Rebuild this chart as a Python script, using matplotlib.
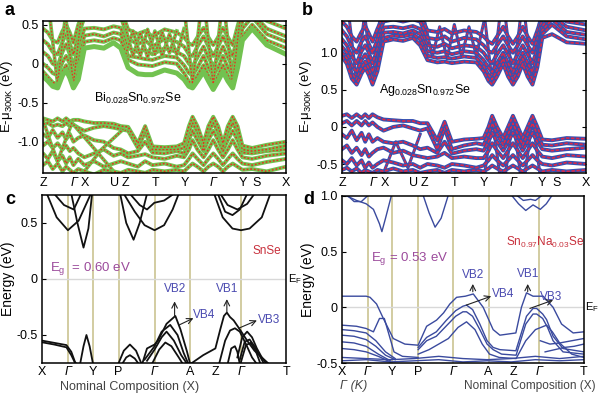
import matplotlib.pyplot as plt

plt.rcParams['font.family'] = ['Liberation Sans', 'DejaVu Sans']
plt.rcParams['mathtext.fontset'] = 'custom'
plt.rcParams['mathtext.rm'] = 'Liberation Sans'
plt.rcParams['mathtext.it'] = 'Liberation Sans:italic'
plt.rcParams['mathtext.default'] = 'regular'

# ---------------- panels a / b : unfolded supercell bands ----------------
ab_tick_pos = [0.0, 0.129, 0.174, 0.295, 0.338, 0.462, 0.582, 0.701, 0.82, 0.879, 1.0]
ab_tick_lab = ['Z', 'Γ', 'X', 'U', 'Z', 'T', 'Y', 'Γ', 'Y', 'S', 'X']

k_ab = [0, .02, .04, .06, .08, .095, .11, .125, .145, .17, .21, .25, .29, .32, .35, .39, .42, .45,
        .50, .55, .58, .60, .615, .635, .66, .68, .70, .72, .74, .76, .78, .80, .82, .86, .92, 1.0]

# Bi0.028Sn0.972Se
a_cb_low = [-0.16, -0.22, -0.29, -0.31, -0.15, -0.08, -0.18, -0.31, -0.20, 0.20, 0.22, 0.20, 0.27, 0.20,
            -0.05, -0.13, -0.14, -0.14, -0.08, -0.12, -0.20, -0.29, -0.31, -0.22, -0.10, -0.22, -0.33,
            -0.22, -0.10, -0.22, -0.31, -0.05, 0.30, 0.45, 0.24, 0.12]
a_cb2 = [-0.10, -0.17, -0.24, -0.26, -0.10, -0.02, -0.12, -0.26, -0.10, 0.28, 0.30, 0.28, 0.33, 0.30, 0.05,
         -0.01, -0.02, -0.03, 0.02, 0.0, -0.12, -0.23, -0.26, -0.15, -0.02, -0.15, -0.27, -0.15, -0.02,
         -0.15, -0.26, 0.0, 0.35, 0.50, 0.30, 0.20]
a_cb3 = [0.0, -0.05, -0.12, -0.15, 0.02, 0.10, 0.0, -0.15, 0.05, 0.36, 0.38, 0.35, 0.40, 0.38, 0.10, 0.08,
         0.06, 0.05, 0.10, 0.08, -0.02, -0.12, -0.15, -0.05, 0.10, -0.05, -0.15, -0.05, 0.10, -0.05, -0.15,
         0.10, 0.45, 0.60, 0.38, 0.28]
a_cb4 = [0.15, 0.10, 0.0, -0.03, 0.15, 0.25, 0.12, -0.02, 0.20, 0.45, 0.46, 0.44, 0.48, 0.46, 0.20, 0.15,
         0.18, 0.12, 0.20, 0.15, 0.10, 0.0, -0.03, 0.08, 0.22, 0.08, -0.03, 0.08, 0.22, 0.08, -0.03, 0.22,
         0.55, 0.65, 0.45, 0.35]
a_cb5 = [0.30, 0.25, 0.15, 0.12, 0.28, 0.38, 0.26, 0.12, 0.35, 0.60, 0.60, 0.60, 0.60, 0.60, 0.32, 0.25,
         0.30, 0.22, 0.32, 0.28, 0.22, 0.12, 0.10, 0.22, 0.35, 0.22, 0.10, 0.22, 0.35, 0.22, 0.10, 0.35,
         0.60, 0.70, 0.55, 0.45]
a_cb6 = [0.45, 0.40, 0.30, 0.27, 0.42, 0.50, 0.40, 0.27, 0.50, 0.70, 0.70, 0.70, 0.70, 0.70, 0.44, 0.38,
         0.42, 0.35, 0.44, 0.40, 0.34, 0.26, 0.24, 0.34, 0.46, 0.34, 0.24, 0.34, 0.46, 0.34, 0.24, 0.48,
         0.70, 0.80, 0.65, 0.56]
a_vb1 = [-0.70, -0.72, -0.74, -0.70, -0.74, -0.70, -0.74, -0.72, -0.72, -0.74, -0.76, -0.76, -0.77, -0.80,
         -0.81, -1.02, -0.80, -1.06, -1.07, -1.06, -1.02, -0.80, -0.68, -0.80, -1.02, -0.80, -0.68, -0.80,
         -1.02, -0.80, -0.68, -0.80, -1.05, -1.08, -1.04, -1.00]
a_vb2 = [-0.78, -0.76, -0.80, -0.78, -0.80, -0.76, -0.80, -0.78, -0.82, -0.86, -0.82, -0.80, -0.82, -0.84,
         -0.86, -1.08, -0.88, -1.10, -1.10, -1.10, -1.08, -0.88, -0.76, -0.88, -1.06, -0.88, -0.76, -0.88,
         -1.06, -0.88, -0.76, -0.88, -1.10, -1.12, -1.10, -1.05]
a_vb3 = [-0.90, -0.95, -0.85, -0.95, -0.88, -0.97, -0.90, -1.00, -0.95, -0.92, -0.98, -1.00, -1.08, -1.10,
         -1.15, -1.12, -1.00, -1.14, -1.15, -1.12, -1.15, -0.98, -0.86, -0.98, -1.12, -0.98, -0.86, -0.98,
         -1.12, -0.98, -0.86, -0.98, -1.14, -1.15, -1.12, -1.10]
a_vb4 = [-1.05, -1.00, -1.08, -1.02, -1.10, -1.05, -1.12, -1.08, -1.15, -1.20, -1.15, -1.10, -1.18, -1.15,
         -1.20, -1.18, -1.16, -1.20, -1.22, -1.18, -1.20, -1.10, -0.98, -1.10, -1.20, -1.10, -0.98, -1.10,
         -1.20, -1.10, -0.98, -1.10, -1.20, -1.22, -1.18, -1.15]
a_vb5 = [-1.15, -1.22, -1.12, -1.25, -1.18, -1.28, -1.20, -1.30, -1.22, -1.30, -1.25, -1.32, -1.28, -1.25,
         -1.28, -1.32, -1.25, -1.30, -1.28, -1.32, -1.30, -1.22, -1.15, -1.22, -1.30, -1.22, -1.15, -1.22,
         -1.30, -1.22, -1.15, -1.22, -1.28, -1.30, -1.26, -1.22]
a_vb6 = [-1.30, -1.25, -1.35, -1.28, -1.38, -1.32, -1.36, -1.40, -1.35, -1.38, -1.42, -1.36, -1.38, -1.40,
         -1.36, -1.38, -1.40, -1.36, -1.38, -1.36, -1.38, -1.32, -1.28, -1.32, -1.38, -1.32, -1.28, -1.32,
         -1.38, -1.32, -1.28, -1.32, -1.36, -1.35, -1.38, -1.32]
# crossing branches (k, E)
a_cross = [
    ([.125, .20, .285], [-0.78, -1.05, -1.36]),
    ([.17, .24, .33], [-1.38, -1.10, -0.84]),
    ([.03, .06, .09], [0.55, -0.26, 0.55]),
    ([.095, .125, .155], [0.55, -0.26, 0.55]),
    ([.585, .615, .645], [0.58, -0.26, 0.58]),
    ([.67, .70, .73], [0.58, -0.28, 0.58]),
    ([.75, .78, .81], [0.58, -0.26, 0.58]),
    ([.34, .37, .40, .43, .46, .49, .52, .55, .58], [0.45, 0.10, 0.40, 0.08, 0.42, 0.10, 0.38, 0.12, 0.45]),
    ([.34, .37, .40, .43, .46, .49, .52, .55], [0.12, 0.42, 0.10, 0.44, 0.12, 0.40, 0.14, 0.42]),
    ([.0, .03, .06, .09, .12], [-0.72, -1.0, -1.25, -1.0, -0.75]),
]

# Ag0.028Sn0.972Se
b_cb_low = [0.95, 0.85, 0.65, 0.57, 0.72, 0.80, 0.70, 0.57, 0.75, 1.15, 1.18, 1.16, 1.20, 1.10, 0.90, 0.87,
            0.88, 0.86, 0.88, 0.87, 0.75, 0.62, 0.57, 0.68, 0.85, 0.68, 0.57, 0.68, 0.85, 0.68, 0.57, 0.80,
            1.20, 1.25, 1.14, 1.12]
b_cb2 = [1.00, 0.92, 0.72, 0.64, 0.80, 0.88, 0.78, 0.64, 0.82, 1.20, 1.23, 1.22, 1.25, 1.18, 0.96, 0.93,
         0.94, 0.92, 0.95, 0.93, 0.82, 0.70, 0.64, 0.76, 0.92, 0.76, 0.64, 0.76, 0.92, 0.76, 0.64, 0.86,
         1.25, 1.38, 1.22, 1.18]
b_cb3 = [1.08, 1.00, 0.82, 0.74, 0.90, 0.98, 0.88, 0.74, 0.92, 1.27, 1.28, 1.26, 1.30, 1.25, 1.02, 1.00,
         1.02, 0.98, 1.02, 1.00, 0.90, 0.80, 0.74, 0.86, 1.00, 0.86, 0.74, 0.86, 1.00, 0.86, 0.74, 0.95,
         1.30, 1.45, 1.28, 1.24]
b_cb4 = [1.18, 1.10, 0.95, 0.86, 1.02, 1.10, 1.00, 0.86, 1.05, 1.34, 1.35, 1.33, 1.36, 1.32, 1.10, 1.08,
         1.12, 1.06, 1.10, 1.08, 1.00, 0.90, 0.86, 0.98, 1.10, 0.98, 0.86, 0.98, 1.10, 0.98, 0.86, 1.05,
         1.36, 1.50, 1.35, 1.30]
b_cb5 = [1.30, 1.22, 1.08, 1.00, 1.15, 1.22, 1.12, 1.00, 1.18, 1.42, 1.45, 1.42, 1.45, 1.42, 1.20, 1.18,
         1.22, 1.15, 1.20, 1.18, 1.10, 1.02, 1.00, 1.10, 1.22, 1.10, 1.00, 1.10, 1.22, 1.10, 1.00, 1.18,
         1.45, 1.55, 1.42, 1.38]
b_cb6 = [1.42, 1.35, 1.22, 1.15, 1.28, 1.36, 1.26, 1.15, 1.32, 1.50, 1.50, 1.50, 1.50, 1.50, 1.30, 1.28,
         1.32, 1.26, 1.30, 1.28, 1.22, 1.15, 1.12, 1.22, 1.35, 1.22, 1.12, 1.22, 1.35, 1.22, 1.12, 1.30,
         1.50, 1.60, 1.50, 1.46]
b_vb1 = [0.15, 0.17, 0.12, 0.17, 0.12, 0.17, 0.12, 0.17, 0.13, 0.10, 0.09, 0.08, 0.08, 0.05, 0.05, -0.18,
         0.07, -0.20, -0.17, -0.16, -0.15, 0.0, 0.15, 0.0, -0.15, 0.0, 0.15, 0.0, -0.15, 0.0, 0.15, 0.0,
         -0.17, -0.18, -0.15, -0.16]
b_vb2 = [0.05, 0.08, 0.02, 0.08, 0.02, 0.08, 0.02, 0.06, 0.0, -0.05, 0.0, 0.02, -0.02, -0.05, -0.02, -0.30,
         -0.02, -0.30, -0.25, -0.22, -0.24, -0.10, 0.05, -0.10, -0.24, -0.10, 0.05, -0.10, -0.24, -0.10,
         0.05, -0.10, -0.24, -0.25, -0.22, -0.24]
b_vb3 = [-0.10, -0.15, -0.05, -0.18, -0.08, -0.20, -0.10, -0.20, -0.15, -0.20, -0.22, -0.20, -0.25, -0.30,
         -0.28, -0.35, -0.20, -0.36, -0.32, -0.30, -0.32, -0.20, -0.08, -0.20, -0.32, -0.20, -0.08, -0.20,
         -0.32, -0.20, -0.08, -0.20, -0.30, -0.32, -0.30, -0.28]
b_vb4 = [-0.30, -0.25, -0.35, -0.28, -0.38, -0.30, -0.40, -0.35, -0.30, -0.28, -0.35, -0.32, -0.38, -0.40,
         -0.42, -0.40, -0.35, -0.42, -0.40, -0.42, -0.42, -0.32, -0.22, -0.32, -0.42, -0.32, -0.22, -0.32,
         -0.42, -0.32, -0.22, -0.32, -0.40, -0.42, -0.38, -0.40]
b_vb5 = [-0.45, -0.50, -0.42, -0.52, -0.45, -0.55, -0.48, -0.55, -0.50, -0.45, -0.48, -0.52, -0.50, -0.55,
         -0.50, -0.52, -0.55, -0.50, -0.52, -0.55, -0.52, -0.45, -0.38, -0.45, -0.52, -0.45, -0.38, -0.45,
         -0.52, -0.45, -0.38, -0.45, -0.50, -0.52, -0.48, -0.50]
b_vb6 = [-0.58, -0.55, -0.60, -0.56, -0.62, -0.58, -0.60, -0.62, -0.58, -0.60, -0.56, -0.60, -0.58, -0.62,
         -0.60, -0.58, -0.62, -0.58, -0.60, -0.58, -0.60, -0.56, -0.52, -0.56, -0.60, -0.56, -0.52, -0.56,
         -0.60, -0.56, -0.52, -0.56, -0.60, -0.58, -0.60, -0.58]
b_cross = [
    ([.03, .06, .09], [1.45, 0.60, 1.45]),
    ([.095, .125, .155], [1.45, 0.60, 1.45]),
    ([.585, .615, .645], [1.45, 0.60, 1.45]),
    ([.67, .70, .73], [1.45, 0.60, 1.45]),
    ([.75, .78, .81], [1.45, 0.60, 1.45]),
    ([.34, .37, .40, .43, .46, .49, .52, .55, .58], [1.40, 0.95, 1.35, 0.92, 1.38, 0.95, 1.35, 0.96, 1.40]),
    ([.585, .615, .645], [-0.62, 0.12, -0.62]),
    ([.67, .70, .73], [-0.62, 0.12, -0.62]),
    ([.75, .78, .81], [-0.62, 0.12, -0.62]),
    ([.17, .22, .27, .32], [-0.62, -0.20, -0.55, -0.10]),
]

# ---------------- panels c / d : primitive cell bands ----------------
cd_tick_pos = [0.0, 0.106, 0.208, 0.314, 0.461, 0.606, 0.71, 0.815, 1.0]
cd_tick_lab = ['X', 'Γ', 'Y', 'P', 'Γ', 'A', 'Z', 'Γ', 'T']
cd_vlines = [0.106, 0.208, 0.314, 0.461, 0.606, 0.815]

# SnSe
c_bands = [
    ([.02, .06, .106, .15, .20], [.76, .55, .435, .52, .76]),
    ([.12, .145, .17, .19, .205], [.76, .50, .28, .45, .76]),
    ([.05, .09, .13, .16], [.76, .66, .62, .76]),
    ([.32, .345, .375, .40, .43], [.76, .50, .35, .50, .76]),
    ([.335, .38, .42, .461, .50, .535, .56], [.76, .60, .48, .435, .48, .62, .76]),
    ([.36, .40, .43, .46, .50, .54], [.76, .66, .62, .68, .70, .76]),
    ([.705, .74, .78, .815, .85, .90, .935], [.76, .55, .45, .435, .45, .55, .76]),
    ([.72, .75, .78, .81, .84], [.76, .60, .57, .62, .76]),
    ([.73, .76, .80, .84, .87], [.76, .66, .62, .67, .76]),
    ([0, .05, .10, .12, .135, .145], [-.55, -.57, -.59, -.65, -.74, -.77]),
    ([0, .05, .10, .12, .14], [-.565, -.585, -.61, -.68, -.77]),
    ([.155, .17, .182, .195, .21], [-.77, -.60, -.50, -.60, -.77]),
    ([.31, .335, .36, .385, .41], [-.77, -.64, -.585, -.64, -.77]),
    ([.325, .345, .36, .38, .40], [-.77, -.70, -.68, -.71, -.77]),
    ([.41, .43, .461, .475, .51, .546, .567, .594, .607], [-.76, -.62, -.585, -.55, -.40, -.33, -.45, -.65, -.76]),
    ([.42, .461, .49, .525, .555, .58, .60], [-.72, -.60, -.47, -.41, -.50, -.66, -.76]),
    ([.43, .461, .49, .51, .54, .57, .595], [-.73, -.63, -.52, -.47, -.55, -.68, -.76]),
    ([.45, .48, .505, .53, .56, .58], [-.76, -.63, -.567, -.60, -.70, -.77]),
    ([.607, .66, .71, .73, .745, .757, .77, .785, .81, .84, .87, .90, .93],
     [-.76, -.68, -.62, -.45, -.33, -.30, -.34, -.37, -.45, -.55, -.64, -.70, -.76]),
    ([.725, .75, .77, .79, .81, .835, .86, .88], [-.76, -.55, -.46, -.44, -.47, -.58, -.70, -.76]),
    ([.76, .775, .79, .80, .81], [-.76, -.62, -.60, -.65, -.76]),
    ([.80, .82, .84, .86, .88, .90, .92], [-.70, -.52, -.47, -.52, -.62, -.70, -.76]),
    ([.81, .83, .85, .87, .89, .91], [-.72, -.56, -.54, -.60, -.68, -.76]),
    ([.815, .835, .855, .875, .895], [-.74, -.59, -.57, -.64, -.76]),
]

# Sn0.97Na0.03Se
d_bands = [
    ([.01, .06, .10, .13, .155, .165, .18, .205], [1.01, .96, .93, .88, .75, .68, .80, 1.01]),
    ([.02, .05, .08, .11], [1.01, .95, .95, 1.01]),
    ([.335, .36, .385, .41, .44], [1.01, .85, .72, .80, 1.01]),
    ([.70, .73, .76, .79, .82, .845, .87], [1.01, .93, .87, .92, .88, .93, 1.01]),
    ([.72, .75, .78, .80, .83], [1.01, .96, .97, .96, 1.01]),
    ([0, .10, .116, .143, .171, .212, .26, .315, .35, .391, .42, .446, .474, .51, .543, .584, .625, .653,
      .719, .742, .763, .79, .832, .873, .908, .956, 1.0],
     [.10, .10, .09, .03, -.10, -.28, -.33, -.34, -.17, -.115, -.05, .03, .09, .10, .12, 0.0, -.20, -.25,
      -.23, 0.0, .13, .10, .10, 0.0, -.15, -.23, -.22]),
    ([.315, .35, .39, .43, .47, .50, .515, .54, .57, .60, .625, .653, .719, .763, .79, .805, .83, .846,
      .873, .914, 1.0],
     [-.36, -.27, -.22, -.12, -.03, .01, .02, -.02, -.15, -.30, -.36, -.38, -.39, -.08, -.01, -.01, -.06,
      -.11, -.26, -.37, -.40]),
    ([.315, .35, .39, .43, .47, .50, .515, .54, .57, .60, .625, .66, .72, .76, .79, .805, .83, .85, .873,
      .914, 1.0],
     [-.38, -.30, -.26, -.17, -.08, -.04, -.04, -.08, -.20, -.33, -.38, -.42, -.43, -.15, -.06, -.06, -.10,
      -.18, -.30, -.40, -.42]),
    ([.315, .36, .40, .44, .48, .515, .55, .58, .61, .65, .72, .76, .80, .846, .87, .90, .95, 1.0],
     [-.42, -.38, -.33, -.28, -.18, -.13, -.20, -.33, -.42, -.45, -.46, -.30, -.20, -.16, -.22, -.32, -.42,
      -.45]),
    ([0, .06, .10, .13, .155, .175, .195, .215, .25, .315], [-.16, -.17, -.19, -.22, -.10, -.10, -.25, -.40,
                                                            -.44, -.45]),
    ([0, .05, .10, .14, .18, .22], [-.20, -.21, -.23, -.30, -.40, -.46]),
    ([0, .05, .10, .14, .18, .22], [-.25, -.26, -.29, -.35, -.43, -.47]),
    ([0, .05, .10, .15, .20], [-.31, -.32, -.35, -.42, -.48]),
    ([0, .05, .10, .15, .20], [-.37, -.38, -.40, -.44, -.49]),
    ([0, .1, .2, .3, .4, .5, .6, .7, .8, .9, 1.0], [-.45, -.46, -.47, -.46, -.44, -.46, -.47, -.46, -.44,
                                                  -.46, -.44]),
    ([0, .1, .2, .3, .4, .5, .6, .7, .8, .9, 1.0], [-.48, -.47, -.49, -.48, -.47, -.49, -.48, -.49, -.47,
                                                  -.48, -.47]),
    ([.82, .86, .90, .95, 1.0], [-.30, -.33, -.32, -.30, -.28]),
    ([.84, .88, .92, .96, 1.0], [-.40, -.38, -.36, -.35, -.33]),
]

GREEN = '#72c250'
RED_A = '#e3341f'
BLUE = '#3650b0'
RED_B = '#dc2848'
OLIVE = '#cbc491'
BAND_C = '#111111'
BAND_D = '#3a4a9e'
VB_BLUE = '#4a4ab0'
PURPLE = '#9b4a9b'

fig = plt.figure(figsize=(6, 3.93), dpi=100)
ax_a = fig.add_axes([0.0717, 0.560, 0.4053, 0.387])
ax_b = fig.add_axes([0.570, 0.560, 0.407, 0.387])
ax_c = fig.add_axes([0.070, 0.0763, 0.407, 0.4277])
ax_d = fig.add_axes([0.570, 0.0763, 0.403, 0.4250])


def style_top(ax, ylim, yticks, ylabels):
    ax.set_xlim(0, 1)
    ax.set_ylim(*ylim)
    ax.set_yticks(yticks)
    ax.set_yticklabels(ylabels)
    ax.set_xticks(ab_tick_pos)
    ax.set_xticklabels(ab_tick_lab)
    for lbl in ax.get_xticklabels():
        if lbl.get_text() == 'Γ':
            lbl.set_style('italic')
    ax.tick_params(axis='y', direction='in', left=True, right=True, length=3, labelsize=9, pad=3)
    ax.tick_params(axis='x', length=0, labelsize=9, pad=3)
    for s in ax.spines.values():
        s.set_linewidth(1.1)


# --- a ---
for e in [a_cb6, a_cb5, a_cb4, a_cb3, a_cb2, a_vb6, a_vb5, a_vb4, a_vb3, a_vb2, a_vb1]:
    ax_a.plot(k_ab, e, color=GREEN, lw=2.8, solid_capstyle='round')
    ax_a.plot(k_ab, e, color=RED_A, lw=1.1, ls=(0, (1.2, 1.2)))
for kk, e in a_cross:
    ax_a.plot(kk, e, color=GREEN, lw=2.6)
    ax_a.plot(kk, e, color=RED_A, lw=1.0, ls=(0, (1.2, 1.2)))
ax_a.plot(k_ab, a_cb_low, color=GREEN, lw=3.6)
style_top(ax_a, (-1.40, 0.55), [0.5, 0, -0.5, -1.0], ['0.5', '0', '-0.5', '-1.0'])
ax_a.set_ylabel('E-μ$_{300K}$ (eV)', fontsize=9.5, labelpad=2)
ax_a.text(0.39, -0.44, 'Bi$_{0.028}$Sn$_{0.972}$Se', fontsize=9, ha='center', va='center')

# --- b ---
for kk, e in b_cross:
    ax_b.plot(kk, e, color=BLUE, lw=2.2)
    ax_b.plot(kk, e, color=RED_B, lw=1.0, ls=(0, (2, 1)))
for e in [b_cb6, b_cb5, b_cb4, b_cb3, b_cb2, b_cb_low, b_vb6, b_vb5, b_vb4, b_vb3, b_vb2, b_vb1]:
    ax_b.plot(k_ab, e, color=BLUE, lw=2.8)
    ax_b.plot(k_ab, e, color=RED_B, lw=1.2, ls=(0, (2, 1)))
style_top(ax_b, (-0.62, 1.43), [1.0, 0.5, 0, -0.5], ['1.0', '0.5', '0', '-0.5'])
ax_b.set_ylabel('E-μ$_{300K}$ (eV)', fontsize=9.5, labelpad=2)
ax_b.text(0.34, 0.50, 'Ag$_{0.028}$Sn$_{0.972}$Se', fontsize=9, ha='center', va='center')


def style_bottom(ax, ylim, yticks, ylabels):
    ax.set_xlim(0, 1)
    ax.set_ylim(*ylim)
    for xv in cd_vlines:
        ax.axvline(xv, color=OLIVE, lw=1.2, zorder=0)
    ax.axhline(0, color='#d8d8d8', lw=1.0, zorder=0)
    ax.set_yticks(yticks)
    ax.set_yticklabels(ylabels)
    ax.set_xticks(cd_tick_pos)
    ax.set_xticklabels(cd_tick_lab)
    for lbl in ax.get_xticklabels():
        if lbl.get_text() == 'Γ':
            lbl.set_style('italic')
    ax.tick_params(axis='y', direction='in', left=True, right=False, length=3, labelsize=9, pad=3)
    ax.tick_params(axis='x', length=0, labelsize=9, pad=2)
    ax.set_ylabel('Energy (eV)', fontsize=10, labelpad=1)
    ax.text(1.006, 0, 'E$_F$', transform=ax.get_yaxis_transform(), fontsize=8, va='center', ha='left')
    for s in ax.spines.values():
        s.set_linewidth(1.1)


# --- c ---
style_bottom(ax_c, (-0.75, 0.75), [0.5, 0, -0.5], ['0.5', '0', '-0.5'])
for kk, e in c_bands:
    ax_c.plot(kk, e, color=BAND_C, lw=1.3)
ax_c.text(0.92, 0.25, 'SnSe', color='#c8303c', fontsize=8.5, ha='center', va='center')
ax_c.text(0.20, 0.09, 'E$_g$  = 0.60 eV', color=PURPLE, fontsize=9.5, ha='center', va='center')
for lab, xy, txy in [('VB2', (.543, -.20), (.543, -.33)), ('VB1', (.757, -.18), (.757, -.30)),
                     ('VB4', (.62, -.35), (.562, -.41)), ('VB3', (.88, -.37), (.805, -.44))]:
    ax_c.annotate('', xy=xy, xytext=txy, arrowprops=dict(arrowstyle='->', color='#222222', lw=0.8,
                                                         shrinkA=0, shrinkB=0))
for lab, x, y in [('VB2', .543, -.09), ('VB1', .757, -.09), ('VB4', .665, -.325), ('VB3', .93, -.37)]:
    ax_c.text(x, y, lab, color=VB_BLUE, fontsize=8.5, ha='center', va='center')
ax_c.text(0.36, -0.14, 'Nominal Composition (X)', transform=ax_c.transAxes, fontsize=9,
          color='#444444', ha='center', va='center')

# --- d ---
style_bottom(ax_d, (-0.5, 1.0), [1.0, 0.5, 0, -0.5], ['1.0', '0.5', '0', '-0.5'])
for kk, e in d_bands:
    ax_d.plot(kk, e, color=BAND_D, lw=1.0)
ax_d.text(0.839, 0.58, 'Sn$_{0.97}$Na$_{0.03}$Se', color='#c8303c', fontsize=8.5, ha='center', va='center')
ax_d.text(0.28, 0.44, 'E$_g$ = 0.53 eV', color=PURPLE, fontsize=9.5, ha='center', va='center')
for lab, xy, txy in [('VB2', (.541, .21), (.541, .14)), ('VB1', (.768, .21), (.768, .14)),
                     ('VB4', (.617, .10), (.514, .02)), ('VB3', (.873, .065), (.777, -.01))]:
    ax_d.annotate('', xy=xy, xytext=txy, arrowprops=dict(arrowstyle='->', color='#222222', lw=0.8,
                                                         shrinkA=0, shrinkB=0))
for lab, x, y in [('VB2', .541, .29), ('VB1', .769, .30), ('VB4', .665, .12), ('VB3', .864, .09)]:
    ax_d.text(x, y, lab, color=VB_BLUE, fontsize=8.5, ha='center', va='center')
ax_d.text(0.05, -0.14, 'Γ (K)', transform=ax_d.transAxes, fontsize=9, color='#444444',
          ha='center', va='center', style='italic')
ax_d.text(0.775, -0.14, 'Nominal Composition (X)', transform=ax_d.transAxes, fontsize=8.5,
          color='#444444', ha='center', va='center')

for lab, x, y in [('a', 0.008, 0.995), ('b', 0.503, 0.995), ('c', 0.008, 0.515), ('d', 0.505, 0.515)]:
    fig.text(x, y, lab, fontsize=13, fontweight='bold', va='top', ha='left')

fig.savefig('out.png', dpi=100)
